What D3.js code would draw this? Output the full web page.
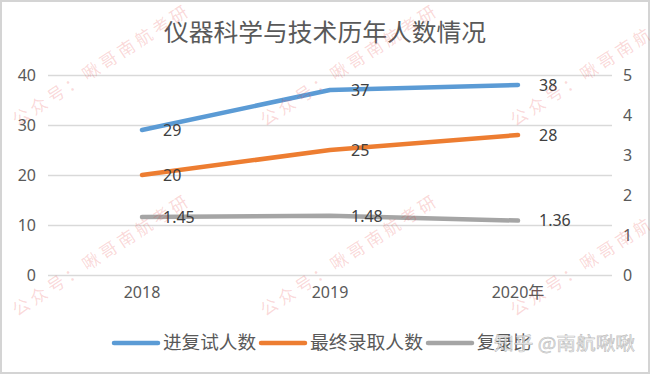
<!DOCTYPE html>
<html>
<head>
<meta charset="utf-8">
<script src="https://cdn.jsdelivr.net/npm/d3@7"></script>
<style>
  body { margin: 0; background: #fff; }
  text { font-family: "Noto Sans", "Noto Sans CJK SC", sans-serif; }
</style>
</head>
<body>
<div id="chart"></div>
<script>
// chart data
const years = ["2018", "2019", "2020年"];
const retest = [29, 37, 38];        // 进复试人数
const admitted = [20, 25, 28];      // 最终录取人数
const ratio = [1.45, 1.48, 1.36];   // 复录比 (right axis)
const leftTicks = [0, 10, 20, 30, 40];
const rightTicks = [0, 1, 2, 3, 4, 5];
const seriesNames = ["进复试人数", "最终录取人数", "复录比"];

width = 650;
height = 374;

const svg = d3.select("#chart")
    .append("svg")
        .attr("width", width)
        .attr("height", height)

// outer border
svg.append("rect")
    .attr("x", 1).attr("y", 1)
    .attr("width", width - 2).attr("height", height - 2)
    .style("fill", "#fff")
    .style("stroke", "#d4d4d4")
    .style("stroke-width", 2)

const x = d3.scaleBand().domain(years).range([48, 612])
const yL = d3.scaleLinear().domain([0, 40]).range([275, 75])
const yR = d3.scaleLinear().domain([0, 5]).range([275, 75])

// gridlines
svg.append("g")
    .attr("transform", "translate(48,0)")
    .call(d3.axisLeft(yL).tickValues(leftTicks).tickSize(-564).tickFormat(""))
    .call(function(g) { g.select(".domain").remove() })
    .selectAll("line")
        .style("stroke", "#d9d9d9")
        .style("stroke-width", 1.5)

// left axis labels
const leftAxis = svg.append("g")
    .attr("transform", "translate(36,0)")
    .call(d3.axisLeft(yL).tickValues(leftTicks).tickSize(0).tickPadding(0))
leftAxis.select(".domain").remove()

// right axis labels
const rightAxis = svg.append("g")
    .attr("transform", "translate(623,0)")
    .call(d3.axisRight(yR).tickValues(rightTicks).tickFormat(d3.format("d")).tickSize(0).tickPadding(0))
rightAxis.select(".domain").remove()

// category labels
const bottomAxis = svg.append("g")
    .attr("transform", "translate(0,287)")
    .call(d3.axisBottom(x).tickSize(0).tickPadding(0))
bottomAxis.select(".domain").remove()

svg.selectAll(".tick text")
    .style("font-family", "'Noto Sans', 'Noto Sans CJK SC', sans-serif")
    .style("font-size", "16px")
    .style("fill", "#595959")

// lines
const cx = function(i) { return x(years[i]) + x.bandwidth() / 2 }
const series = [
    { values: retest, scale: yL, color: "#5b9bd5", fmt: function(v) { return String(v) } },
    { values: admitted, scale: yL, color: "#ed7d31", fmt: function(v) { return String(v) } },
    { values: ratio, scale: yR, color: "#a5a5a5", fmt: function(v) { return v.toFixed(2) } }
]

series.slice().reverse().forEach(function(s) {
    const line = d3.line()
        .x(function(d, i) { return cx(i) })
        .y(function(d) { return s.scale(d) })
    svg.append("path")
        .datum(s.values)
        .attr("d", line)
        .style("fill", "none")
        .style("stroke", s.color)
        .style("stroke-width", 4.5)
        .style("stroke-linecap", "round")
        .style("stroke-linejoin", "round")
})

series.forEach(function(s) {
    svg.selectAll(null)
        .data(s.values)
        .join("text")
            .attr("x", function(d, i) { return cx(i) + 21 })
            .attr("y", function(d) { return s.scale(d) })
            .attr("dy", "0.36em")
            .text(function(d) { return s.fmt(d) })
            .style("font-size", "16px")
            .style("fill", "#404040")
})

// title
svg.append("text")
    .attr("x", 325).attr("y", 41)
    .attr("text-anchor", "middle")
    .attr("textLength", 322)
    .attr("lengthAdjust", "spacingAndGlyphs")
    .text("仪器科学与技术历年人数情况")
    .style("font-family", "'Noto Sans CJK SC', sans-serif")
    .style("font-size", "24px")
    .style("fill", "#595959")

// legend
const legendX = [114, 261, 428]
const legendW = [93, 113, 54]
series.forEach(function(s, i) {
    svg.append("line")
        .attr("x1", legendX[i]).attr("x2", legendX[i] + 44)
        .attr("y1", 343).attr("y2", 343)
        .style("stroke", s.color)
        .style("stroke-width", 4.5)
        .style("stroke-linecap", "round")
    svg.append("text")
        .attr("x", legendX[i] + 49).attr("y", 343)
        .attr("dy", "0.36em")
        .attr("textLength", legendW[i])
        .attr("lengthAdjust", "spacingAndGlyphs")
        .text(seriesNames[i])
        .style("font-family", "'Noto Sans CJK SC', sans-serif")
        .style("font-size", "18px")
        .style("fill", "#595959")
})

// watermarks
const wmX = [100, 348, 598]
const wmY = [66, 256]
wmY.forEach(function(wy) {
    wmX.forEach(function(wx) {
        svg.append("text")
            .attr("transform", "translate(" + wx + "," + wy + ") rotate(-33)")
            .attr("text-anchor", "middle")
            .attr("dy", "0.35em")
            .attr("textLength", 205)
            .attr("lengthAdjust", "spacing")
            .text("公众号：啾哥南航考研")
            .style("font-family", "'Noto Sans CJK SC', sans-serif")
            .style("font-size", "17px")
            .style("fill", "rgba(230, 60, 60, 0.2)")
    })
})

svg.append("text")
    .attr("x", 494).attr("y", 344)
    .attr("dy", "0.36em")
    .attr("textLength", 141)
    .attr("lengthAdjust", "spacingAndGlyphs")
    .text("知乎 @南航啾啾")
    .style("font-family", "'Noto Sans CJK SC', sans-serif")
    .style("font-size", "18px")
    .style("fill", "rgba(240, 240, 240, 0.85)")
    .style("stroke", "rgba(150, 150, 150, 0.6)")
    .style("stroke-width", 0.6)
</script>
</body>
</html>
